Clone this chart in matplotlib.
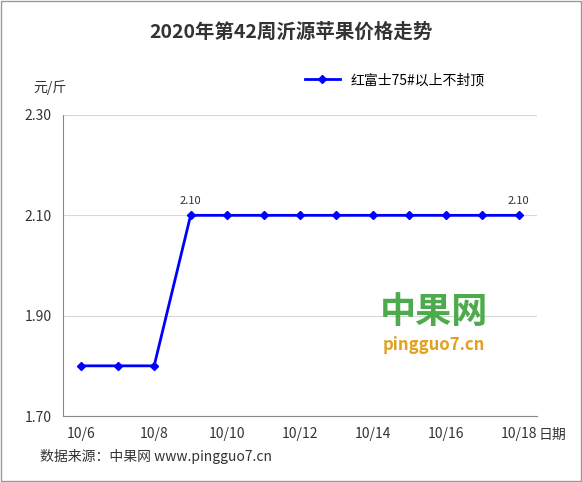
import matplotlib
matplotlib.use("Agg")
import matplotlib.pyplot as plt

plt.rcParams['font.family'] = ['Noto Sans CJK SC', 'DejaVu Sans']

dates = ["10/6","10/7","10/8","10/9","10/10","10/11","10/12","10/13","10/14","10/15","10/16","10/17","10/18"]
prices = [1.80,1.80,1.80,2.10,2.10,2.10,2.10,2.10,2.10,2.10,2.10,2.10,2.10]
series_name = "红富士75#以上不封顶"
yticks = [1.70,1.90,2.10,2.30]

fig = plt.figure(figsize=(5.82,4.82), dpi=100)
ax = fig.add_axes([63/582, 1-416/482, (537-63)/582, (416-115)/482])
x = list(range(len(dates)))
ax.plot(x, prices, color='#0000ff', lw=2, marker='D', ms=4, label=series_name)
ax.set_xlim(-0.5, len(dates)-0.5)
ax.set_ylim(1.70, 2.30)
ax.set_yticks(yticks)
ax.set_yticklabels([f"{v:.2f}" for v in yticks], fontsize=10, color='#333333')
ax.set_xticks(x[::2])
ax.set_xticklabels(dates[::2], fontsize=10, color='#333333')
ax.tick_params(length=0, pad=8)
ax.grid(axis='y', color='#d8d8d8', lw=0.8)
for s in ['top','right']:
    ax.spines[s].set_visible(False)
for s in ['left','bottom']:
    ax.spines[s].set_color('#888888')
for i in (3, len(prices)-1):
    ax.annotate(f"{prices[i]:.2f}", (x[i], prices[i]), xytext=(0,8), textcoords='offset points',
                ha='center', fontsize=8, color='#333333')
ax.legend(loc='upper center', bbox_to_anchor=(0.7, 1.18), frameon=False, fontsize=10, handlelength=2.5)
fig.text(0.5, 1-32/482, "2020年第42周沂源苹果价格走势", ha='center', va='center', fontsize=14, fontweight='bold', color='#333333')
fig.text(33/582, 1-88/482, "元/斤", fontsize=10, va='center', color='#333333')
fig.text(539/582, 1-435/482, "日期", fontsize=10, va='center', color='#333333')
fig.text(40/582, 1-456/482, "数据来源：中果网 www.pingguo7.cn", fontsize=10, va='center', color='#333333')
fig.text(380/582, 1-313/482, "中果网", fontsize=26, fontweight='bold', color='#3aa23a', va='center', alpha=0.9)
fig.text(383/582, 1-345/482, "pingguo7.cn", fontsize=12, fontweight='bold', color='#e0a020', va='center')
fig.add_artist(plt.Rectangle((0.002,0.002),0.996,0.996, transform=fig.transFigure, fill=False, ec='#999999', lw=1))
fig.savefig("out.png", dpi=100, facecolor='white')
